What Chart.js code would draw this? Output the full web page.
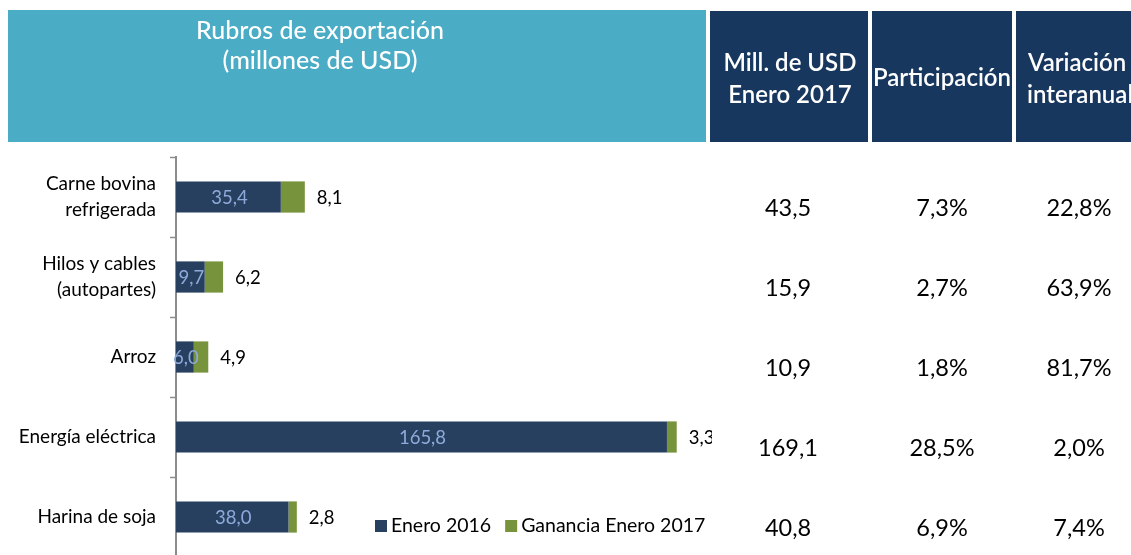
<!DOCTYPE html>
<html>
<head>
<meta charset="utf-8">
<script src="https://cdn.jsdelivr.net/npm/chart.js@4/dist/chart.umd.min.js"></script>
<style>
  html, body { margin: 0; padding: 0; background: #fff; overflow: hidden; }
  canvas { display: block; }
</style>
</head>
<body>
<canvas id="rubros" width="1131" height="565"></canvas>
<script>
// data
const categories = [["Carne bovina", "refrigerada"], ["Hilos y cables", "(autopartes)"], "Arroz", "Energía eléctrica", "Harina de soja"];
const enero2016 = [35.4, 9.7, 6.0, 165.8, 38.0];
const ganancia2017 = [8.1, 6.2, 4.9, 3.3, 2.8];
const millUsd2017 = [43.5, 15.9, 10.9, 169.1, 40.8];
const participacion = [7.3, 2.7, 1.8, 28.5, 6.9];
const variacion = [22.8, 63.9, 81.7, 2.0, 7.4];
const seriesNames = ["Enero 2016", "Ganancia Enero 2017"];
const headerLeft = ["Rubros de exportación", "(millones de USD)"];
const headerCols = [["Mill. de USD", "Enero 2017"], ["Participación"], ["Variación", "interanual"]];

const FONT = "Lato";
const NAVY_BAR = "#27405f";
const GREEN = "#77933c";

function fmt(v) { return v.toFixed(1).replace(".", ","); }

// header boxes, table columns, value labels and legend
const extras = {
  id: "extras",
  beforeDraw(chart) {
    const ctx = chart.ctx;
    ctx.save();
    ctx.fillStyle = "#4bacc6";
    ctx.fillRect(8, 10, 698, 132);
    ctx.fillStyle = "#17375e";
    ctx.fillRect(710, 11, 158, 131);
    ctx.fillRect(872, 11, 140, 131);
    ctx.fillRect(1016, 11, 115, 131);

    ctx.fillStyle = "#fff";
    ctx.textBaseline = "middle";
    ctx.textAlign = "center";
    ctx.font = "500 25px " + FONT;
    ctx.fillText(headerLeft[0], 320, 31);
    ctx.fillText(headerLeft[1], 320, 61);

    ctx.font = "600 24px " + FONT;
    ctx.fillText(headerCols[0][0], 790, 63);
    ctx.fillText(headerCols[0][1], 790, 95);
    ctx.fillText(headerCols[1][0], 942, 78);
    ctx.textAlign = "left";
    ctx.fillText(headerCols[2][0], 1028, 63);
    ctx.fillText(headerCols[2][1], 1027, 95);
    ctx.restore();
  },
  afterDatasetsDraw(chart) {
    const ctx = chart.ctx;
    const m0 = chart.getDatasetMeta(0);
    const m1 = chart.getDatasetMeta(1);
    ctx.save();
    ctx.beginPath();
    ctx.rect(0, 145, 712, 420);
    ctx.clip();
    ctx.textBaseline = "middle";
    ctx.font = "18.5px " + FONT;
    m0.data.forEach((bar, i) => {
      ctx.fillStyle = "#8eaadb";
      ctx.textAlign = "center";
      ctx.fillText(fmt(enero2016[i]), (bar.base + bar.x) / 2 + 1, bar.y + 1);
    });
    m1.data.forEach((bar, i) => {
      ctx.fillStyle = "#000";
      ctx.textAlign = "left";
      ctx.fillText(fmt(ganancia2017[i]), bar.x + 12, bar.y + 1);
    });
    ctx.restore();

    // table
    ctx.save();
    ctx.fillStyle = "#000";
    ctx.textAlign = "center";
    ctx.textBaseline = "middle";
    ctx.font = "23.5px " + FONT;
    m0.data.forEach((bar, i) => {
      const y = bar.y + 11;
      ctx.fillText(fmt(millUsd2017[i]), 788, y);
      ctx.fillText(fmt(participacion[i]) + "%", 942, y);
      ctx.fillText(fmt(variacion[i]) + "%", 1079, y);
    });

    // legend
    ctx.textAlign = "left";
    ctx.font = "19.5px " + FONT;
    let x = 375;
    const ly = 526;
    chart.data.datasets.forEach((ds) => {
      ctx.fillStyle = ds.backgroundColor;
      ctx.fillRect(x, ly - 6, 12, 12);
      ctx.fillStyle = "#000";
      ctx.fillText(ds.label, x + 16, ly);
      x += 16 + ctx.measureText(ds.label).width + 14;
    });
    ctx.restore();
  }
};

new Chart(document.getElementById("rubros"), {
  type: "bar",
  data: {
    labels: categories,
    datasets: [
      { label: seriesNames[0], data: enero2016, backgroundColor: NAVY_BAR },
      { label: seriesNames[1], data: ganancia2017, backgroundColor: GREEN }
    ]
  },
  options: {
    indexAxis: "y",
    responsive: false,
    animation: false,
    layout: { padding: { top: 157, right: 422, bottom: 8, left: 0 } },
    datasets: { bar: { barPercentage: 0.39, categoryPercentage: 1 } },
    scales: {
      x: { stacked: true, display: false, min: 0, max: 180 },
      y: {
        stacked: true,
        afterFit(scale) {
          scale.width = 176;
          scale.paddingTop = 0;
          scale.paddingBottom = 0;
        },
        grid: { drawOnChartArea: false, offset: true, tickLength: 6, color: "#8c8c8c", tickWidth: 1.5 },
        border: { color: "#8c8c8c", width: 2 },
        ticks: { color: "#000", font: { family: FONT, size: 19, lineHeight: 1.35 }, padding: 14 }
      }
    },
    plugins: { legend: { display: false }, tooltip: { enabled: false } }
  },
  plugins: [extras]
});
</script>
</body>
</html>
